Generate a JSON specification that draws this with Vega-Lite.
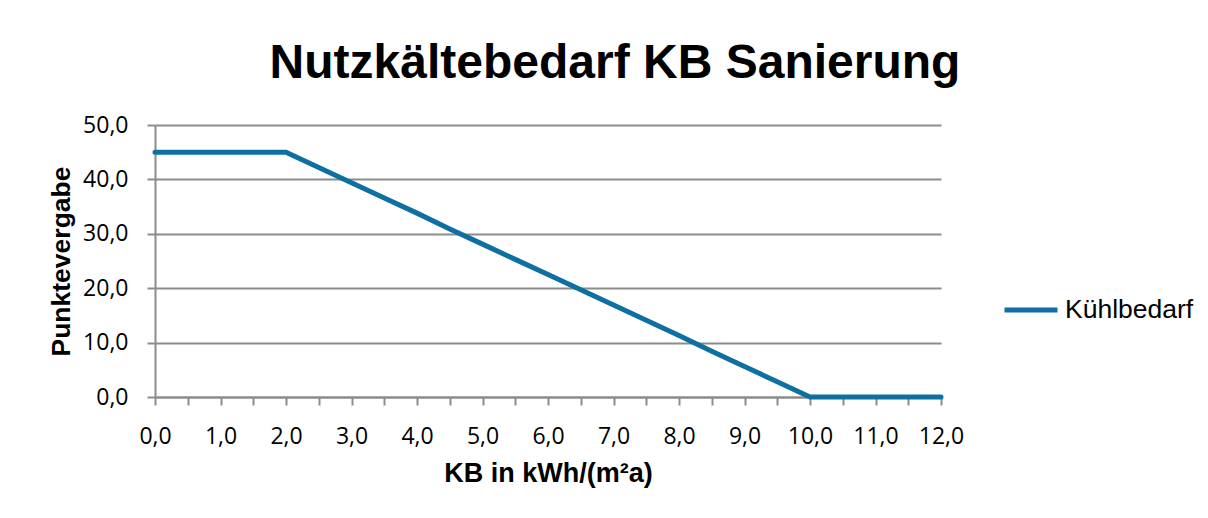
{
  "$schema": "https://vega.github.io/schema/vega-lite/v6.json",
  "autosize": "none",
  "width": 786,
  "height": 272,
  "padding": {"left": 155, "top": 125, "right": 267, "bottom": 121},
  "background": "white",
  "title": {
    "text": "Nutzkältebedarf KB Sanierung",
    "font": "Liberation Sans",
    "fontSize": 48,
    "fontWeight": "bold",
    "color": "#000000",
    "anchor": "middle",
    "dx": 67,
    "baseline": "alphabetic",
    "offset": -12
  },
  "data": {
    "values": [
      {"kb": 0.0, "punkte": 45, "serie": "Kühlbedarf"},
      {"kb": 0.5, "punkte": 45, "serie": "Kühlbedarf"},
      {"kb": 1.0, "punkte": 45, "serie": "Kühlbedarf"},
      {"kb": 1.5, "punkte": 45, "serie": "Kühlbedarf"},
      {"kb": 2.0, "punkte": 45, "serie": "Kühlbedarf"},
      {"kb": 2.5, "punkte": 42.2, "serie": "Kühlbedarf"},
      {"kb": 3.0, "punkte": 39.4, "serie": "Kühlbedarf"},
      {"kb": 3.5, "punkte": 36.6, "serie": "Kühlbedarf"},
      {"kb": 4.0, "punkte": 33.8, "serie": "Kühlbedarf"},
      {"kb": 4.5, "punkte": 30.9, "serie": "Kühlbedarf"},
      {"kb": 5.0, "punkte": 28.1, "serie": "Kühlbedarf"},
      {"kb": 5.5, "punkte": 25.3, "serie": "Kühlbedarf"},
      {"kb": 6.0, "punkte": 22.5, "serie": "Kühlbedarf"},
      {"kb": 6.5, "punkte": 19.7, "serie": "Kühlbedarf"},
      {"kb": 7.0, "punkte": 16.9, "serie": "Kühlbedarf"},
      {"kb": 7.5, "punkte": 14.1, "serie": "Kühlbedarf"},
      {"kb": 8.0, "punkte": 11.3, "serie": "Kühlbedarf"},
      {"kb": 8.5, "punkte": 8.4, "serie": "Kühlbedarf"},
      {"kb": 9.0, "punkte": 5.6, "serie": "Kühlbedarf"},
      {"kb": 9.5, "punkte": 2.8, "serie": "Kühlbedarf"},
      {"kb": 10.0, "punkte": 0, "serie": "Kühlbedarf"},
      {"kb": 10.5, "punkte": 0, "serie": "Kühlbedarf"},
      {"kb": 11.0, "punkte": 0, "serie": "Kühlbedarf"},
      {"kb": 11.5, "punkte": 0, "serie": "Kühlbedarf"},
      {"kb": 12.0, "punkte": 0, "serie": "Kühlbedarf"}
    ]
  },
  "mark": {"type": "line", "strokeWidth": 5, "strokeCap": "round", "strokeJoin": "miter", "clip": false},
  "encoding": {
    "x": {
      "field": "kb",
      "type": "quantitative",
      "scale": {"domain": [0, 12], "nice": false, "zero": false},
      "axis": {
        "title": "KB in kWh/(m²a)",
        "titleFont": "Liberation Sans",
        "titleFontSize": 27,
        "titleFontWeight": "bold",
        "titleColor": "#000000",
        "titlePadding": 12,
        "values": [0, 0.5, 1, 1.5, 2, 2.5, 3, 3.5, 4, 4.5, 5, 5.5, 6, 6.5, 7, 7.5, 8, 8.5, 9, 9.5, 10, 10.5, 11, 11.5, 12],
        "labelExpr": "datum.value % 1 === 0 ? replace(format(datum.value, '.1f'), '.', ',') : ''",
        "labelFont": "Open Sans",
        "labelFontSize": 23,
        "labelColor": "#000000",
        "labelPadding": 20,
        "labelOverlap": false,
        "labelFlush": false,
        "grid": false,
        "tickSize": 8,
        "tickWidth": 2,
        "tickColor": "#8c8c8c",
        "domainColor": "#8c8c8c",
        "domainWidth": 2
      }
    },
    "y": {
      "field": "punkte",
      "type": "quantitative",
      "scale": {"domain": [0, 50], "nice": false},
      "axis": {
        "title": "Punktevergabe",
        "titleFont": "Liberation Sans",
        "titleFontSize": 26.5,
        "titleFontWeight": "bold",
        "titleColor": "#000000",
        "titlePadding": 7,
        "values": [0, 10, 20, 30, 40, 50],
        "labelExpr": "replace(format(datum.value, '.1f'), '.', ',')",
        "labelFont": "Open Sans",
        "labelFontSize": 23,
        "labelColor": "#000000",
        "labelPadding": 19,
        "labelFlush": false,
        "grid": true,
        "gridColor": "#8c8c8c",
        "gridWidth": 2,
        "tickSize": 8,
        "tickWidth": 2,
        "tickColor": "#8c8c8c",
        "domainColor": "#8c8c8c",
        "domainWidth": 2
      }
    },
    "color": {
      "field": "serie",
      "type": "nominal",
      "scale": {"range": ["#0E6FA2"]},
      "legend": {
        "title": null,
        "orient": "none",
        "legendX": 847,
        "legendY": 156,
        "symbolType": "stroke",
        "symbolSize": 2809,
        "symbolStrokeWidth": 5,
        "labelFont": "Liberation Sans",
        "labelFontSize": 26.5,
        "labelColor": "#000000",
        "labelOffset": 5
      }
    }
  },
  "config": {
    "view": {"stroke": null}
  }
}
